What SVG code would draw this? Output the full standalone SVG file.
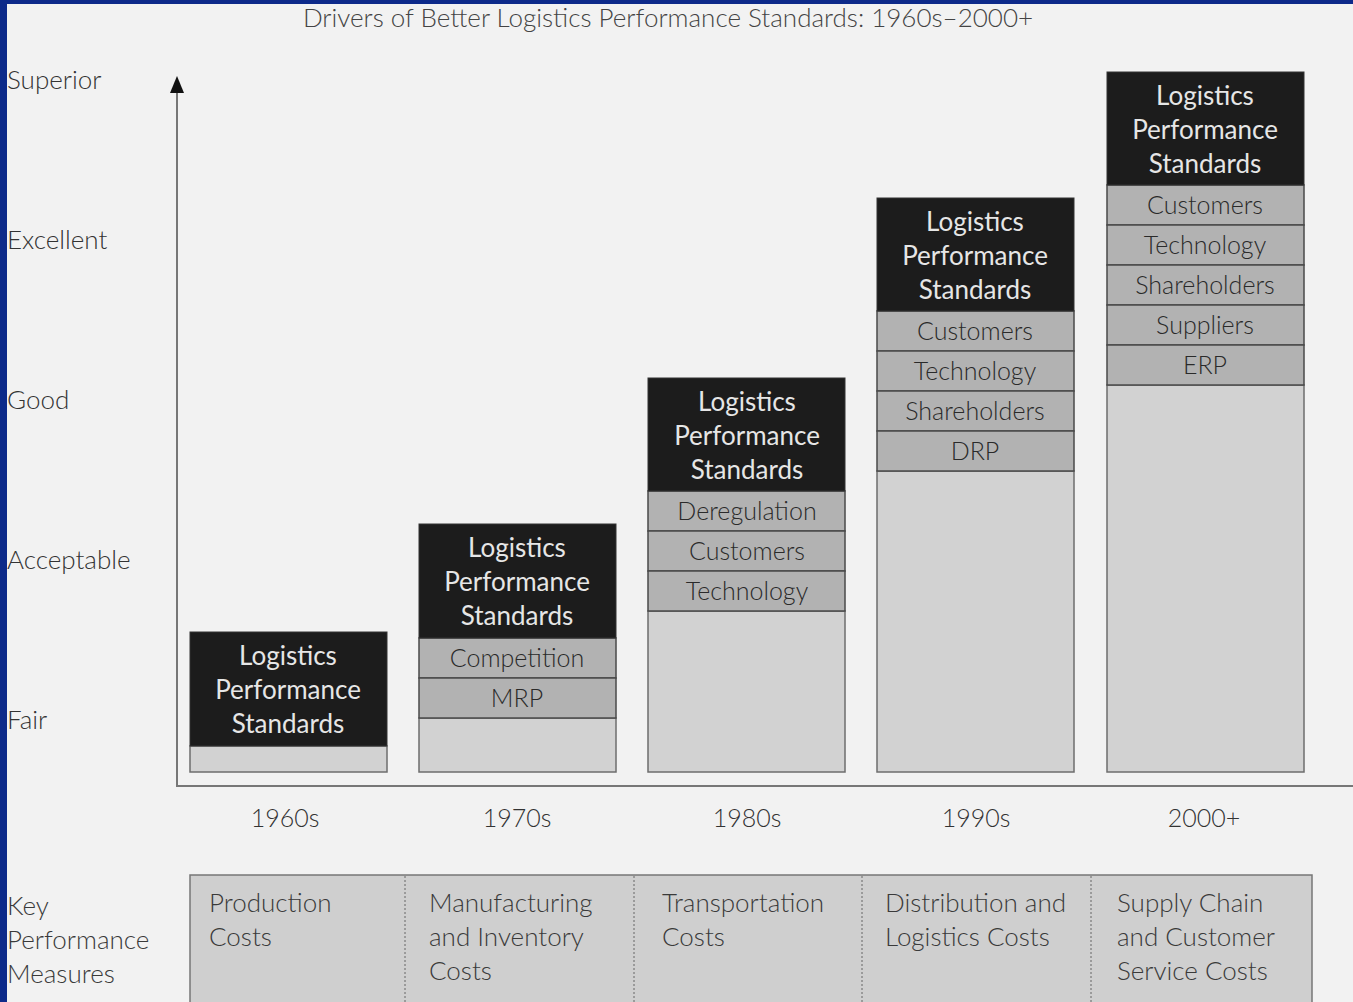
<svg xmlns="http://www.w3.org/2000/svg" width="1353" height="1002" viewBox="0 0 1353 1002">
<defs>
<style>
.t{font-family:Lato,"Open Sans","Liberation Sans",sans-serif;font-weight:300}
.ylab{font-size:26px;fill:#333;}
.hd{fill:#1c1c1c;stroke:#333;stroke-width:1}
.hdt{font-size:26px;fill:#e6e6e6;text-anchor:middle;font-weight:400}
.bd{fill:#b2b2b2;stroke:#4a4a4a;stroke-width:1.5}
.bdt{font-size:25px;fill:#2a2a2a;text-anchor:middle}
.lt{fill:#d2d2d2;stroke:#6e6e6e;stroke-width:1.5}
.yr{font-size:25px;fill:#333;text-anchor:middle}
.kp{font-size:26px;fill:#3a3a3a}
.ax{stroke:#777;stroke-width:2;fill:none}
</style>
</defs>
<rect x="0" y="0" width="1353" height="1002" fill="#0d2a8a"/>
<rect x="7" y="4" width="1346" height="998" fill="#f2f2f2"/>

<text class="t" x="668" y="27" font-size="26" fill="#444" text-anchor="middle">Drivers of Better Logistics Performance Standards: 1960s–2000+</text>

<g id="ylabels" class="t ylab">
<text x="7" y="89">Superior</text>
<text x="7" y="249">Excellent</text>
<text x="7" y="409">Good</text>
<text x="7" y="569">Acceptable</text>
<text x="7" y="729">Fair</text>
</g>

<g id="connectors">
<line class="ax" x1="177" y1="787" x2="177" y2="93"/>
<path d="M170,93 L177,76 L184,93 Z" fill="#111"/>
<line class="ax" x1="176" y1="786" x2="1353" y2="786"/>
</g>

<g id="col1960" class="t">
<rect class="lt" x="190" y="746" width="197" height="26"/>
<rect class="hd" x="190" y="632" width="197" height="114"/>
<text class="hdt" x="288" y="665">Logistics</text>
<text class="hdt" x="288" y="699">Performance</text>
<text class="hdt" x="288" y="733">Standards</text>
</g>

<g id="col1970" class="t">
<rect class="lt" x="419" y="718" width="197" height="54"/>
<rect class="bd" x="419" y="638" width="197" height="40"/>
<text class="bdt" x="517" y="667">Competition</text>
<rect class="bd" x="419" y="678" width="197" height="40"/>
<text class="bdt" x="517" y="707">MRP</text>
<rect class="hd" x="419" y="524" width="197" height="114"/>
<text class="hdt" x="517" y="557">Logistics</text>
<text class="hdt" x="517" y="591">Performance</text>
<text class="hdt" x="517" y="625">Standards</text>
</g>

<g id="col1980" class="t">
<rect class="lt" x="648" y="611" width="197" height="161"/>
<rect class="bd" x="648" y="491" width="197" height="40"/>
<text class="bdt" x="747" y="520">Deregulation</text>
<rect class="bd" x="648" y="531" width="197" height="40"/>
<text class="bdt" x="747" y="560">Customers</text>
<rect class="bd" x="648" y="571" width="197" height="40"/>
<text class="bdt" x="747" y="600">Technology</text>
<rect class="hd" x="648" y="378" width="197" height="113"/>
<text class="hdt" x="747" y="411">Logistics</text>
<text class="hdt" x="747" y="445">Performance</text>
<text class="hdt" x="747" y="479">Standards</text>
</g>

<g id="col1990" class="t">
<rect class="lt" x="877" y="471" width="197" height="301"/>
<rect class="bd" x="877" y="311" width="197" height="40"/>
<text class="bdt" x="975" y="340">Customers</text>
<rect class="bd" x="877" y="351" width="197" height="40"/>
<text class="bdt" x="975" y="380">Technology</text>
<rect class="bd" x="877" y="391" width="197" height="40"/>
<text class="bdt" x="975" y="420">Shareholders</text>
<rect class="bd" x="877" y="431" width="197" height="40"/>
<text class="bdt" x="975" y="460">DRP</text>
<rect class="hd" x="877" y="198" width="197" height="113"/>
<text class="hdt" x="975" y="231">Logistics</text>
<text class="hdt" x="975" y="265">Performance</text>
<text class="hdt" x="975" y="299">Standards</text>
</g>

<g id="col2000" class="t">
<rect class="lt" x="1107" y="385" width="197" height="387"/>
<rect class="bd" x="1107" y="185" width="197" height="40"/>
<text class="bdt" x="1205" y="214">Customers</text>
<rect class="bd" x="1107" y="225" width="197" height="40"/>
<text class="bdt" x="1205" y="254">Technology</text>
<rect class="bd" x="1107" y="265" width="197" height="40"/>
<text class="bdt" x="1205" y="294">Shareholders</text>
<rect class="bd" x="1107" y="305" width="197" height="40"/>
<text class="bdt" x="1205" y="334">Suppliers</text>
<rect class="bd" x="1107" y="345" width="197" height="40"/>
<text class="bdt" x="1205" y="374">ERP</text>
<rect class="hd" x="1107" y="72" width="197" height="113"/>
<text class="hdt" x="1205" y="105">Logistics</text>
<text class="hdt" x="1205" y="139">Performance</text>
<text class="hdt" x="1205" y="173">Standards</text>
</g>

<g id="years" class="t yr">
<text x="285" y="827">1960s</text>
<text x="517" y="827">1970s</text>
<text x="747" y="827">1980s</text>
<text x="976" y="827">1990s</text>
<text x="1204" y="827">2000+</text>
</g>

<g id="kpm" class="t kp">
<text x="7" y="915">Key</text>
<text x="7" y="949">Performance</text>
<text x="7" y="983">Measures</text>
<rect x="190" y="875" width="1122" height="130" fill="#cfcfcf" stroke="#777" stroke-width="1.5"/>
<g stroke="#666" stroke-width="1" stroke-dasharray="2,2">
<line x1="405" y1="876" x2="405" y2="1002"/>
<line x1="634" y1="876" x2="634" y2="1002"/>
<line x1="862" y1="876" x2="862" y2="1002"/>
<line x1="1091" y1="876" x2="1091" y2="1002"/>
</g>
<text x="209" y="912">Production</text>
<text x="209" y="946">Costs</text>
<text x="429" y="912">Manufacturing</text>
<text x="429" y="946">and Inventory</text>
<text x="429" y="980">Costs</text>
<text x="662" y="912">Transportation</text>
<text x="662" y="946">Costs</text>
<text x="885" y="912">Distribution and</text>
<text x="885" y="946">Logistics Costs</text>
<text x="1117" y="912">Supply Chain</text>
<text x="1117" y="946">and Customer</text>
<text x="1117" y="980">Service Costs</text>
</g>
</svg>
